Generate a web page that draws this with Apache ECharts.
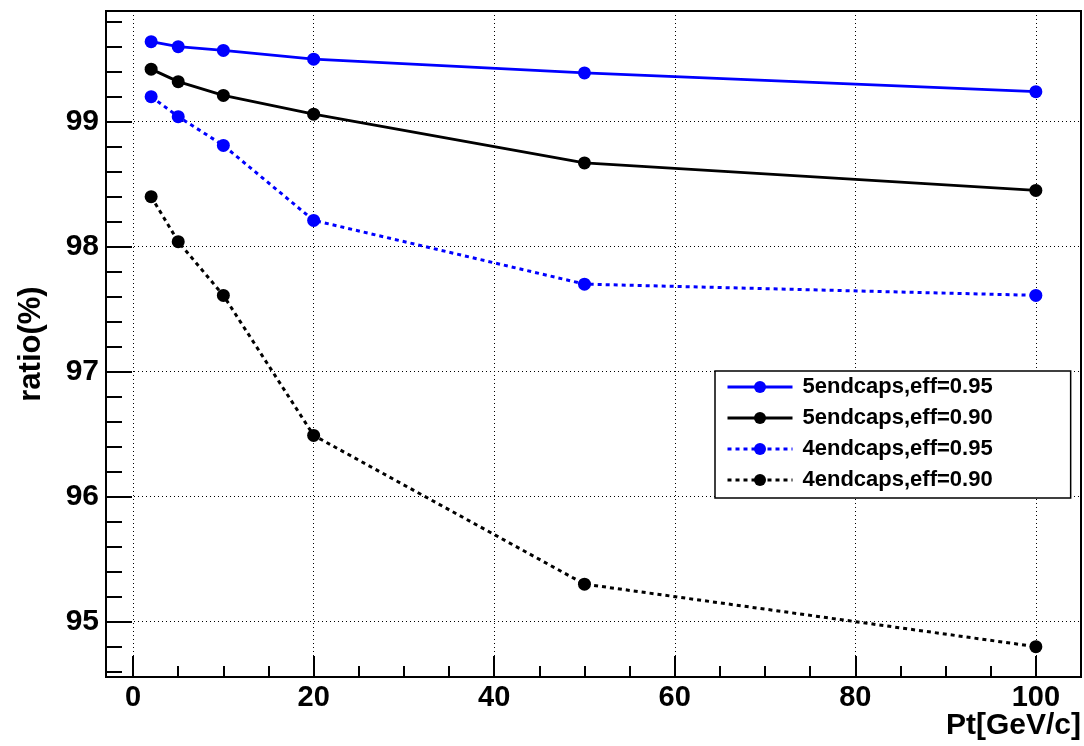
<!DOCTYPE html>
<html>
<head>
<meta charset="utf-8">
<script src="https://cdn.jsdelivr.net/npm/echarts@6/dist/echarts.min.js"></script>
<style>html,body{margin:0;padding:0;background:#fff}#c{width:1084px;height:746px}</style>
</head>
<body>
<div id="c"></div>
<script>
var ptValues = [2, 5, 10, 20, 50, 100];
var seriesNames = ['5endcaps,eff=0.95', '5endcaps,eff=0.90', '4endcaps,eff=0.95', '4endcaps,eff=0.90'];
var e5_095 = [99.64, 99.60, 99.57, 99.50, 99.39, 99.24];
var e5_090 = [99.42, 99.32, 99.21, 99.06, 98.67, 98.45];
var e4_095 = [99.20, 99.04, 98.81, 98.21, 97.70, 97.61];
var e4_090 = [98.40, 98.04, 97.61, 96.49, 95.30, 94.80];
var xRange = [-3, 105];
var yRange = [94.557, 99.885];
var xTitle = 'Pt[GeV/c]';
var yTitle = 'ratio(%)';

function pairs(ys) { return ptValues.map(function (x, i) { return [x, ys[i]]; }); }
var FONT = '"Liberation Sans", Arial, sans-serif';

function mk(name, ys, color, dashed) {
  return {
    name: name, type: 'line', data: pairs(ys),
    symbol: 'circle', symbolSize: 13,
    itemStyle: { color: color },
    lineStyle: { color: color, width: 3, type: dashed ? [4, 4] : 'solid' },
    animation: false, z: 5
  };
}

var chart = echarts.init(document.getElementById('c'), null, { renderer: 'canvas' });
chart.setOption({
  animation: false,
  backgroundColor: '#fff',
  title: {
    text: xTitle, right: 3, top: 711, padding: 0,
    textStyle: { color: '#000', fontFamily: FONT, fontWeight: 'bold', fontSize: 30 }
  },
  grid: { left: 106, top: 11, right: 3, bottom: 69, show: true, borderColor: '#000', borderWidth: 2, backgroundColor: 'transparent', containLabel: false, outerBoundsMode: 'none' },
  xAxis: {
    type: 'value', min: xRange[0], max: xRange[1], splitNumber: 5,
    axisLine: { show: true, onZero: false, lineStyle: { color: '#000', width: 2 } },
    axisTick: { show: true, inside: true, length: 21, lineStyle: { color: '#000', width: 2 } },
    minorTick: { show: true, splitNumber: 4, length: 11, lineStyle: { color: '#000', width: 2 } },
    splitLine: { show: true, lineStyle: { color: '#000', width: 1, type: [1, 3] } },
    axisLabel: { show: true, margin: 6, showMinLabel: false, showMaxLabel: false,
      color: '#000', fontFamily: FONT, fontWeight: 'bold', fontSize: 29,
      formatter: function (v) { return (Math.abs(v % 20) < 1e-9) ? String(v) : ''; } }
  },
  yAxis: {
    type: 'value', min: yRange[0], max: yRange[1], splitNumber: 5,
    axisLine: { show: true, onZero: false, lineStyle: { color: '#000', width: 2 } },
    axisTick: { show: true, inside: true, length: 26, lineStyle: { color: '#000', width: 2 } },
    minorTick: { show: true, splitNumber: 5, length: 16, lineStyle: { color: '#000', width: 2 } },
    splitLine: { show: true, lineStyle: { color: '#000', width: 1, type: [1, 3] } },
    axisLabel: { show: true, margin: 7, showMinLabel: false, showMaxLabel: false,
      color: '#000', fontFamily: FONT, fontWeight: 'bold', fontSize: 30,
      formatter: function (v) { return (Math.abs(v - Math.round(v)) < 1e-9) ? String(Math.round(v)) : ''; } },
    name: yTitle, nameLocation: 'middle', nameRotate: 90, nameGap: 59,
    nameTextStyle: { color: '#000', fontFamily: FONT, fontWeight: 'bold', fontSize: 31 }
  },
  legend: {
    orient: 'vertical', left: 715, top: 371,
    data: seriesNames,
    backgroundColor: '#fff', borderColor: '#000', borderWidth: 1.5,
    padding: [5, 78, 7, 11],
    itemWidth: 65, itemHeight: 15, itemGap: 9,
    lineStyle: { width: 3 },
    textStyle: { color: '#000', fontFamily: FONT, fontWeight: 'bold', fontSize: 22, lineHeight: 22, padding: [0, 0, 0, 5] },
    z: 10
  },
  series: [
    mk(seriesNames[0], e5_095, '#0000ff', false),
    mk(seriesNames[1], e5_090, '#000000', false),
    mk(seriesNames[2], e4_095, '#0000ff', true),
    mk(seriesNames[3], e4_090, '#000000', true)
  ]
});
</script>
</body>
</html>
